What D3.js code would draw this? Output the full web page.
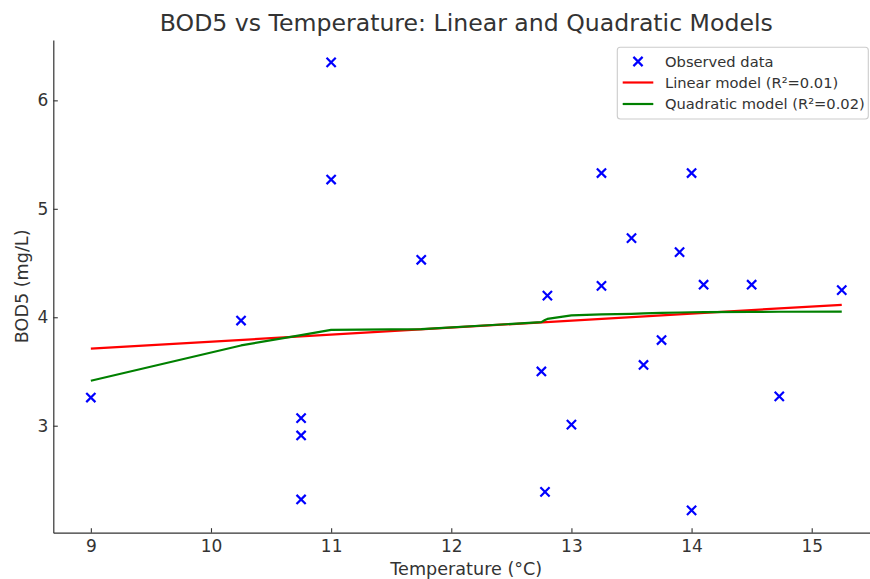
<!DOCTYPE html>
<html>
<head>
<meta charset="utf-8">
<script src="https://cdn.jsdelivr.net/npm/d3@7"></script>
<style>
  html, body { margin: 0; padding: 0; background: #fff; }
  svg { display: block; font-family: "DejaVu Sans", sans-serif; }
</style>
</head>
<body>
<svg id="chart" width="870" height="579"></svg>
<script>
// Observed samples: water temperature (°C) and BOD5 (mg/L)
const temperature = [9, 10.25, 10.75, 10.75, 10.75, 11, 11, 11.75, 12.75, 12.78, 12.8,
  13, 13.25, 13.25, 13.5, 13.6, 13.75, 13.9, 14, 14, 14.1, 14.5, 14.73, 15.25];
const bod5 = [3.26, 3.97, 3.07, 2.91, 2.32, 6.35, 5.27, 4.53, 3.5, 2.39, 4.2,
  3.01, 5.33, 4.29, 4.73, 3.56, 3.79, 4.6, 5.33, 2.22, 4.3, 4.3, 3.27, 4.25];

// Fitted linear model (R² = 0.01), evaluated at the ends of the temperature range
const linearTemp = [9, 15.25];
const linearFit = [3.71, 4.115];

// Fitted quadratic model (R² = 0.02), evaluated at the sorted sample temperatures
const quadTemp = [9, 10.25, 10.75, 11, 11.75, 12.75, 12.78, 12.8, 13, 13.25, 13.5,
  13.6, 13.75, 13.9, 14, 14.1, 14.5, 14.73, 15.25];
const quadFit = [3.415, 3.74, 3.835, 3.884, 3.89, 3.955, 3.975, 3.985, 4.017, 4.027, 4.032,
  4.035, 4.04, 4.044, 4.046, 4.048, 4.05, 4.051, 4.052];

const xTicks = [9, 10, 11, 12, 13, 14, 15];
const yTicks = [3, 4, 5, 6];

const legendLabels = ["Observed data", "Linear model (R²=0.01)", "Quadratic model (R²=0.02)"];

const svg = d3.select("#chart");
const plotLeft = 53.3, plotRight = 879.3, plotTop = 40, plotBottom = 532.7;

const x = d3.scaleLinear().domain([8.6875, 15.5625]).range([plotLeft, plotRight]);
const y = d3.scaleLinear().domain([2.0135, 6.5565]).range([plotBottom, plotTop]);

const axisColor = "#333";
const textColor = "#333";

// Title
svg.append("text")
  .attr("x", 466.3).attr("y", 31)
  .attr("text-anchor", "middle")
  .attr("font-size", 23.6)
  .attr("fill", textColor)
  .text("BOD5 vs Temperature: Linear and Quadratic Models");

// Axes (left and bottom spines only, ticks pointing inward)
const xAxis = svg.append("g")
  .attr("transform", `translate(0,${plotBottom})`)
  .call(d3.axisBottom(x).tickValues(xTicks).tickFormat(d3.format("d"))
    .tickSizeInner(-4.5).tickSizeOuter(0).tickPadding(7.2));
const yAxis = svg.append("g")
  .attr("transform", `translate(${plotLeft},0)`)
  .call(d3.axisLeft(y).tickValues(yTicks).tickFormat(d3.format("d"))
    .tickSizeInner(-4.5).tickSizeOuter(0).tickPadding(5));

[xAxis, yAxis].forEach(g => {
  g.select(".domain").attr("stroke", axisColor).attr("stroke-width", 1.2);
  g.selectAll(".tick line").attr("stroke", axisColor).attr("stroke-width", 1.1);
  g.selectAll(".tick text").attr("fill", textColor).attr("font-size", 17)
    .attr("font-family", "DejaVu Sans, sans-serif");
});

// Axis labels
svg.append("text")
  .attr("x", 466.3).attr("y", 575)
  .attr("text-anchor", "middle")
  .attr("font-size", 17.6)
  .attr("fill", textColor)
  .text("Temperature (°C)");
svg.append("text")
  .attr("transform", `translate(28,${(plotTop + plotBottom) / 2}) rotate(-90)`)
  .attr("text-anchor", "middle")
  .attr("font-size", 17.6)
  .attr("fill", textColor)
  .text("BOD5 (mg/L)");

// Scatter markers ("x")
const ms = 4.6;
const crossPath = `M${-ms},${-ms}L${ms},${ms}M${-ms},${ms}L${ms},${-ms}`;
svg.append("g").selectAll("path")
  .data(temperature.map((t, i) => [t, bod5[i]]))
  .join("path")
  .attr("transform", d => `translate(${x(d[0])},${y(d[1])})`)
  .attr("d", crossPath)
  .attr("stroke", "#0000ff")
  .attr("stroke-width", 2.2)
  .attr("fill", "none");

// Model lines
const line = d3.line().x(d => x(d[0])).y(d => y(d[1]));
svg.append("path")
  .attr("d", line(linearTemp.map((t, i) => [t, linearFit[i]])))
  .attr("stroke", "#ff0000").attr("stroke-width", 2.2).attr("fill", "none");
svg.append("path")
  .attr("d", line(quadTemp.map((t, i) => [t, quadFit[i]])))
  .attr("stroke", "#008000").attr("stroke-width", 2.2).attr("fill", "none")
  .attr("stroke-linejoin", "round");

// Legend
const lg = svg.append("g");
lg.append("rect")
  .attr("x", 617.3).attr("y", 47.3)
  .attr("width", 251).attr("height", 71.7)
  .attr("rx", 3).attr("ry", 3)
  .attr("fill", "#fff").attr("fill-opacity", 0.8)
  .attr("stroke", "#cccccc").attr("stroke-width", 1.1);

const rowY = [61.5, 82.5, 104];
lg.append("path")
  .attr("transform", `translate(638,${rowY[0]})`)
  .attr("d", crossPath)
  .attr("stroke", "#0000ff").attr("stroke-width", 2.2).attr("fill", "none");
lg.append("line")
  .attr("x1", 622.7).attr("x2", 653.3).attr("y1", rowY[1]).attr("y2", rowY[1])
  .attr("stroke", "#ff0000").attr("stroke-width", 2.2);
lg.append("line")
  .attr("x1", 622.7).attr("x2", 653.3).attr("y1", rowY[2]).attr("y2", rowY[2])
  .attr("stroke", "#008000").attr("stroke-width", 2.2);
lg.selectAll("text.lbl")
  .data(legendLabels)
  .join("text")
  .attr("class", "lbl")
  .attr("x", 665)
  .attr("y", (d, i) => rowY[i])
  .attr("dy", "0.36em")
  .attr("font-size", 14.7)
  .attr("fill", textColor)
  .text(d => d);
</script>
</body>
</html>
